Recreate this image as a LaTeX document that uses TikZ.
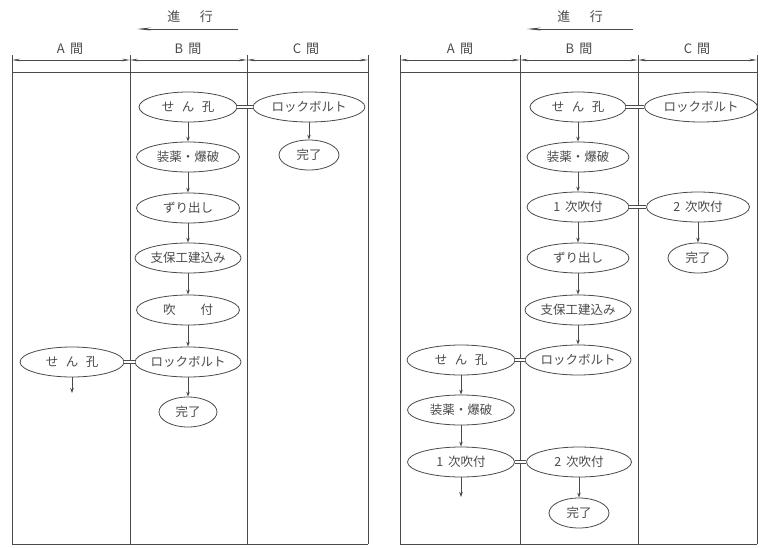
\documentclass[tikz,border=0pt]{standalone}
\usepackage{fontspec}
\newfontfamily\jp{Noto Sans CJK JP}
\usetikzlibrary{arrows.meta,shapes.geometric}
\definecolor{ink}{HTML}{4A4A4A}
\tikzset{
 proc/.style={ellipse, draw=ink, line width=0.8pt, minimum width=#1, minimum height=30pt, inner sep=0pt, font=\jp\fontsize{12.5}{12.5}\selectfont, text=ink},
 proc/.default=104pt,
 flow/.style={draw=ink, line width=0.8pt, -{Stealth[length=5pt,width=3.5pt]}},
 link/.style={draw=ink, double, double distance=2.2pt, line width=0.7pt},
 dim/.style={draw=ink, line width=0.6pt, {Stealth[length=8pt,width=2.5pt]}-{Stealth[length=8pt,width=2.5pt]}},
 prog/.style={draw=ink, line width=0.7pt, -{Stealth[length=14pt,width=3pt]}},
 frame/.style={draw=ink, line width=0.8pt},
 head/.style={font=\jp\fontsize{13}{13}\selectfont, text=ink, inner sep=0pt},
}
\begin{document}
\begin{tikzpicture}[x=1pt,y=-1pt]
\useasboundingbox (0,0) rectangle (761,547);
% ---------- frames ----------
\foreach \x in {12,130,247,368,400,520,638,757} {\draw[frame] (\x,55) -- (\x,544);}
\draw[frame] (12,72) -- (368,72);
\draw[frame] (12,544) -- (368,544);
\draw[frame] (400,72) -- (757,72);
\draw[frame] (400,544) -- (757,544);
% dimension lines
\coordinate (d1) at (12,60); \coordinate (d2) at (130,60); \coordinate (d3) at (247,60); \coordinate (d4) at (368,60);
\coordinate (e1) at (400,60); \coordinate (e2) at (520,60); \coordinate (e3) at (638,60); \coordinate (e4) at (757,60);
\draw[dim] (d1) -- (d2); \draw[dim] (d2) -- (d3); \draw[dim] (d3) -- (d4);
\draw[dim] (e1) -- (e2); \draw[dim] (e2) -- (e3); \draw[dim] (e3) -- (e4);
% headers
\node[head] (Lprog) at (190,17) {進\hspace{1.5em}行};
\node[head] (Rprog) at (580,17) {進\hspace{1.5em}行};
\coordinate (Lps) at (238,29); \coordinate (Lpe) at (137,29);
\coordinate (Rps) at (633,29); \coordinate (Rpe) at (527,29);
\draw[prog] (Lps) -- (Lpe);
\draw[prog] (Rps) -- (Rpe);
\node[head] (LhA) at (70,49) {A\hspace{0.4em}間};
\node[head] (LhB) at (188,49) {B\hspace{0.4em}間};
\node[head] (LhC) at (306,49) {C\hspace{0.4em}間};
\node[head] (RhA) at (460,49) {A\hspace{0.4em}間};
\node[head] (RhB) at (579,49) {B\hspace{0.4em}間};
\node[head] (RhC) at (697,49) {C\hspace{0.4em}間};
% ---------- left panel ----------
\node[proc=98pt]  (LB1) at (188,107) {せ\hspace{0.6em}ん\hspace{0.6em}孔};
\node[proc=112pt] (LC1) at (309,107) {ロックボルト};
\node[proc=60pt]  (LC2) at (309,155) {完了};
\node[proc=103pt] (LB2) at (188,157) {装薬・爆破};
\node[proc=103pt] (LB3) at (188,208) {ずり出し};
\node[proc=103pt] (LB4) at (188,258) {支保工建込み};
\node[proc=103pt] (LB5) at (188,310) {吹\hspace{2em}付};
\node[proc=103pt] (LB6) at (188,362) {ロックボルト};
\node[proc=104pt] (LA1) at (72,362) {せ\hspace{0.6em}ん\hspace{0.6em}孔};
\node[proc=58pt]  (LB7) at (188,412) {完了};
\coordinate (LAend) at (72,393);
\draw[flow] (LB1) -- (LB2);
\draw[flow] (LB2) -- (LB3);
\draw[flow] (LB3) -- (LB4);
\draw[flow] (LB4) -- (LB5);
\draw[flow] (LB5) -- (LB6);
\draw[flow] (LB6) -- (LB7);
\draw[flow] (LC1) -- (LC2);
\draw[flow] (LA1) -- (LAend);
\draw[link] (LB1) -- (LC1);
\draw[link] (LA1) -- (LB6);
% ---------- right panel ----------
\node[proc=96pt]  (RB1) at (578,107) {せ\hspace{0.6em}ん\hspace{0.6em}孔};
\node[proc=113pt] (RC1) at (701,107) {ロックボルト};
\node[proc=102pt] (RB2) at (578,157) {装薬・爆破};
\node[proc=102pt] (RB3) at (578,207) {1\hspace{0.4em}次吹付};
\node[proc=103pt] (RC2) at (698,207) {2\hspace{0.4em}次吹付};
\node[proc=60pt]  (RC3) at (698,258) {完了};
\node[proc=102pt] (RB4) at (578,258) {ずり出し};
\node[proc=102pt] (RB5) at (578,310) {支保工建込み};
\node[proc=105pt] (RB6) at (578,360) {ロックボルト};
\node[proc=108pt] (RA1) at (461,360) {せ\hspace{0.6em}ん\hspace{0.6em}孔};
\node[proc=107pt] (RA2) at (461,410) {装薬・爆破};
\node[proc=107pt] (RA3) at (461,462) {1\hspace{0.4em}次吹付};
\node[proc=105pt] (RB7) at (579,462) {2\hspace{0.4em}次吹付};
\node[proc=60pt]  (RB8) at (579,513) {完了};
\coordinate (RAend) at (461,497);
\draw[flow] (RB1) -- (RB2);
\draw[flow] (RB2) -- (RB3);
\draw[flow] (RB3) -- (RB4);
\draw[flow] (RB4) -- (RB5);
\draw[flow] (RB5) -- (RB6);
\draw[flow] (RC2) -- (RC3);
\draw[flow] (RA1) -- (RA2);
\draw[flow] (RA2) -- (RA3);
\draw[flow] (RB7) -- (RB8);
\draw[flow] (RA3) -- (RAend);
\draw[link] (RB1) -- (RC1);
\draw[link] (RB3) -- (RC2);
\draw[link] (RA1) -- (RB6);
\draw[link] (RA3) -- (RB7);
\end{tikzpicture}
\end{document}
